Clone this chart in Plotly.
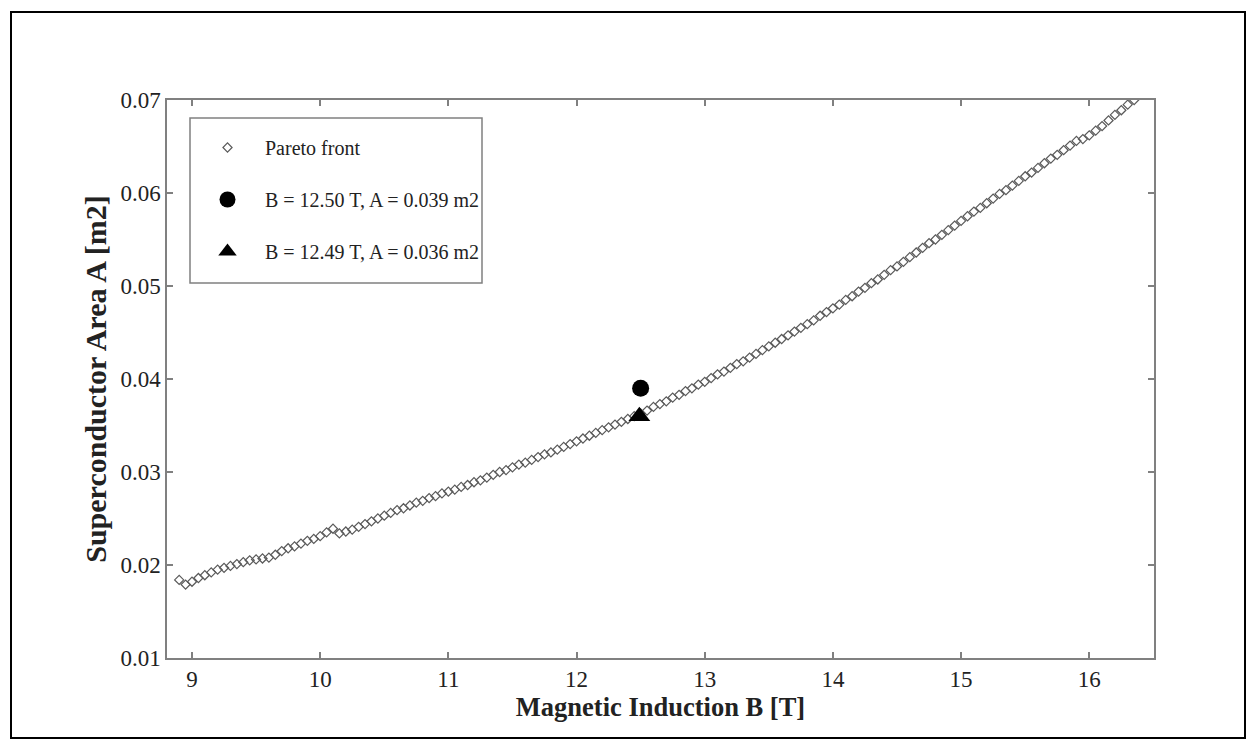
import plotly.graph_objects as go

# Pareto front
pareto_B = [
    8.90, 8.95, 9.00, 9.05, 9.10, 9.15, 9.20, 9.25, 9.30, 9.35, 9.40, 9.45, 9.50, 9.55, 9.60,
    9.65, 9.70, 9.75, 9.80, 9.85, 9.90, 9.95, 10.00, 10.05, 10.10, 10.15,
    10.20, 10.25, 10.30, 10.35, 10.40, 10.45, 10.50, 10.55, 10.60, 10.65, 10.70, 10.75, 10.80,
    10.85, 10.90, 10.95, 11.00, 11.05, 11.10,
    11.15, 11.20, 11.25, 11.30, 11.35, 11.40, 11.45, 11.50, 11.55, 11.60, 11.65, 11.70, 11.75,
    11.80, 11.85, 11.90, 11.95, 12.00, 12.05, 12.10, 12.15, 12.20, 12.25, 12.30, 12.35, 12.40,
    12.45, 12.50,
    12.55, 12.60, 12.65, 12.70, 12.75, 12.80, 12.85, 12.90, 12.95, 13.00, 13.05, 13.10, 13.15,
    13.20, 13.25, 13.30, 13.35, 13.40, 13.45, 13.50, 13.55, 13.60, 13.65, 13.70, 13.75, 13.80,
    13.85, 13.90, 13.95, 14.00,
    14.05, 14.10, 14.15, 14.20, 14.25, 14.30, 14.35, 14.40, 14.45, 14.50, 14.55, 14.60, 14.65,
    14.70, 14.75, 14.80, 14.85, 14.90, 14.95, 15.00,
    15.05, 15.10, 15.15, 15.20, 15.25, 15.30, 15.35, 15.40, 15.45, 15.50, 15.55, 15.60, 15.65,
    15.70, 15.75, 15.80, 15.85, 15.90, 15.95, 16.00, 16.05, 16.10, 16.15, 16.20, 16.25, 16.30,
    16.35,
]
pareto_A = [
    0.0184, 0.0179, 0.0182, 0.0186, 0.0189, 0.0192, 0.0195, 0.0197, 0.0199, 0.0201, 0.0203,
    0.0205, 0.0206, 0.0207, 0.0208, 0.0211, 0.0215, 0.0218, 0.0220, 0.0223, 0.0226, 0.0228,
    0.0231, 0.0235, 0.0239, 0.0234,
    0.0236, 0.0238, 0.0241, 0.0244, 0.0247, 0.0250, 0.0253, 0.0256, 0.0259, 0.0261, 0.0264,
    0.0267, 0.0269, 0.0272, 0.0274, 0.0277, 0.0279, 0.0281, 0.0284,
    0.0286, 0.0289, 0.0291, 0.0294, 0.0297, 0.0300, 0.0302, 0.0305, 0.0308, 0.0310, 0.0313,
    0.0316, 0.0319, 0.0321, 0.0324, 0.0327, 0.0330, 0.0333, 0.0336, 0.0339, 0.0342, 0.0345,
    0.0348, 0.0351, 0.0354, 0.0357, 0.0360, 0.0363,
    0.0366, 0.0370, 0.0373, 0.0376, 0.0380, 0.0383, 0.0387, 0.0390, 0.0394, 0.0397, 0.0401,
    0.0405, 0.0408, 0.0412, 0.0416, 0.0419, 0.0423, 0.0427, 0.0431, 0.0435, 0.0439, 0.0443,
    0.0447, 0.0451, 0.0455, 0.0459, 0.0463, 0.0468, 0.0472, 0.0476,
    0.0480, 0.0485, 0.0489, 0.0494, 0.0498, 0.0503, 0.0507, 0.0512, 0.0517, 0.0521, 0.0526,
    0.0531, 0.0536, 0.0541, 0.0546, 0.0550, 0.0555, 0.0560, 0.0565, 0.0570,
    0.0575, 0.0580, 0.0584, 0.0589, 0.0594, 0.0599, 0.0603, 0.0608, 0.0613, 0.0618, 0.0622,
    0.0627, 0.0632, 0.0637, 0.0641, 0.0646, 0.0651, 0.0656, 0.0658, 0.0662, 0.0667, 0.0672,
    0.0678, 0.0684, 0.0689, 0.0695, 0.0700,
]

point1_B = [12.50]
point1_A = [0.039]
point2_B = [12.49]
point2_A = [0.036]

series_names = [
    "Pareto front",
    "B = 12.50 T, A = 0.039 m2",
    "B = 12.49 T, A = 0.036 m2",
]

x_ticks = [9, 10, 11, 12, 13, 14, 15, 16]
y_ticks = [0.01, 0.02, 0.03, 0.04, 0.05, 0.06, 0.07]

FONT = "Liberation Serif"
AXIS_GREY = "#808080"

fig = go.Figure()
fig.add_trace(go.Scatter(
    x=pareto_B, y=pareto_A, mode="markers", name=series_names[0], legendgroup="g1",
    marker=dict(symbol="diamond-open", size=7, color="#5a5a5a", line=dict(width=1.2, color="#5a5a5a")),
))
fig.add_trace(go.Scatter(
    x=point1_B, y=point1_A, mode="markers", name=series_names[1], legendgroup="g2",
    marker=dict(symbol="circle", size=17, color="black"),
))
fig.add_trace(go.Scatter(
    x=point2_B, y=point2_A, mode="markers", name=series_names[2], legendgroup="g3",
    marker=dict(symbol="triangle-up", size=19, color="black"),
))

# plot area in pixels: x 167..1154, y 100..658
PL, PR, PT, PB = 167, 1154, 100, 658
def px(x):
    return (x - PL) / (PR - PL)
def py(y):
    return (PB - y) / (PB - PT)

# outer frame of the figure
fig.add_shape(type="rect", xref="paper", yref="paper",
              x0=px(11), x1=px(1245), y0=py(738), y1=py(12),
              line=dict(color="black", width=2), fillcolor="rgba(0,0,0,0)", layer="below")
# legend frame
fig.add_shape(type="rect", xref="paper", yref="paper",
              x0=px(190), x1=px(482), y0=py(283), y1=py(118),
              line=dict(color=AXIS_GREY, width=1.5), fillcolor="white", layer="below")

axis_common = dict(
    showline=True, linecolor=AXIS_GREY, linewidth=1.5, mirror="ticks",
    ticks="inside", ticklen=6, tickwidth=1.5, tickcolor=AXIS_GREY,
    showgrid=False, zeroline=False,
    tickfont=dict(family=FONT, size=23, color="#222222"),
)

fig.update_layout(
    width=1257, height=750, autosize=False,
    margin=dict(l=PL, r=1257 - PR, t=PT, b=750 - PB),
    paper_bgcolor="white", plot_bgcolor="white",
    font=dict(family=FONT, color="#222222"),
    xaxis=dict(range=[8.805, 16.505], tickvals=x_ticks, ticktext=[str(v) for v in x_ticks],
               title=dict(text="<b>Magnetic Induction B [T]</b>", font=dict(family=FONT, size=26.5, color="#222222"), standoff=1),
               **axis_common),
    yaxis=dict(range=[0.01, 0.07], tickvals=y_ticks, ticktext=[f"{v:.2f}" for v in y_ticks],
               title=dict(text="<b>Superconductor Area A [m2]</b>", font=dict(family=FONT, size=30, color="#222222"), standoff=5),
               **axis_common),
    legend=dict(
        x=px(190), y=py(128), xanchor="left", yanchor="top",
        bgcolor="rgba(0,0,0,0)", borderwidth=0,
        font=dict(family=FONT, size=20, color="#222222"),
        tracegroupgap=23, itemwidth=65,
    ),
    showlegend=True,
)

fig.write_html("out.html")
